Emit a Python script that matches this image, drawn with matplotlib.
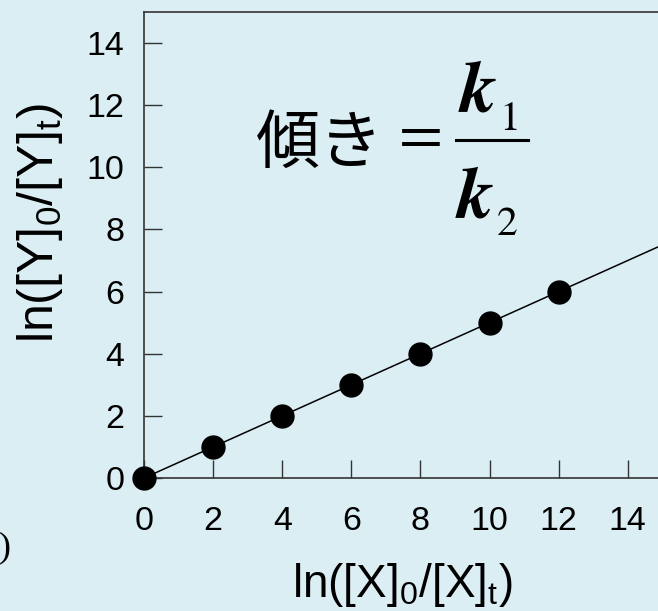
import numpy as np
import matplotlib
matplotlib.use("Agg")
import matplotlib.pyplot as plt
from matplotlib.lines import Line2D

# data
lnX = [0, 2, 4, 6, 8, 10, 12]
lnY = [0, 1, 2, 3, 4, 5, 6]
xticks = [0, 2, 4, 6, 8, 10, 12, 14]
yticks = [0, 2, 4, 6, 8, 10, 12, 14]

bg = '#dbeef4'

plt.rcParams['font.family'] = ['Liberation Sans', 'DejaVu Sans']
plt.rcParams['mathtext.fontset'] = 'custom'
plt.rcParams['mathtext.rm'] = 'Liberation Sans'
plt.rcParams['mathtext.it'] = 'Liberation Sans:italic'

W, H = 658, 611
fig = plt.figure(figsize=(W / 100, H / 100), dpi=100, facecolor=bg)

def fx(px):
    return px / W

def fy(py):
    return 1 - py / H

# axes run off the right edge of the picture
ax = fig.add_axes([144 / W, (H - 478) / H, 552.8 / W, 466 / H])
ax.set_facecolor(bg)
ax.set_xlim(0, 16)
ax.set_ylim(0, 15)

for s in ax.spines.values():
    s.set_color('#333333')
    s.set_linewidth(1.2)

ax.set_xticks(xticks)
ax.set_yticks(yticks)
ax.tick_params(direction='in', length=13, width=1, color='#333333', labelsize=24.5)
ax.tick_params(axis='x', pad=20)
ax.tick_params(axis='y', pad=14)

# fitted line through the points
k, b = np.polyfit(lnX, lnY, 1)
xl = np.array(ax.get_xlim())
ax.plot(xl, k * xl + b, color='black', lw=1.1)
ax.plot(lnX, lnY, 'o', color='black', ms=16.5, clip_on=False, zorder=3)

fig.text(fx(402), fy(597), r'ln([X]$_0$/[X]$_\mathrm{t}$)', fontsize=33,
         ha='center', va='baseline')
fig.text(fx(40), fy(223), r'ln([Y]$_0$/[Y]$_\mathrm{t}$)', fontsize=36,
         ha='center', va='center', rotation=90)

# slope annotation
fig.text(fx(256), fy(163), '傾き', fontsize=46, family=['Noto Sans CJK JP'],
         ha='left', va='baseline')
serif = dict(family='STIXGeneral', ha='left', va='baseline')
fig.text(fx(399), fy(139), '=', fontsize=46, va='center', ha='left', family='STIXGeneral')
fig.text(fx(460), fy(112), 'k', fontsize=53, weight='bold', style='italic', **serif)
fig.text(fx(499), fy(130), '1', fontsize=30, **serif)
fig.add_artist(Line2D([fx(456), fx(528)], [fy(140), fy(140)], color='black', lw=2.2))
fig.text(fx(457), fy(217), 'k', fontsize=53, weight='bold', style='italic', **serif)
fig.text(fx(497), fy(235), '2', fontsize=30, **serif)

# clipped-off piece of a neighbouring label
fig.text(fx(11), fy(548), ')', fontsize=26, family='Liberation Serif',
         ha='right', va='center')

fig.savefig('out.png', dpi=100, facecolor=bg)
